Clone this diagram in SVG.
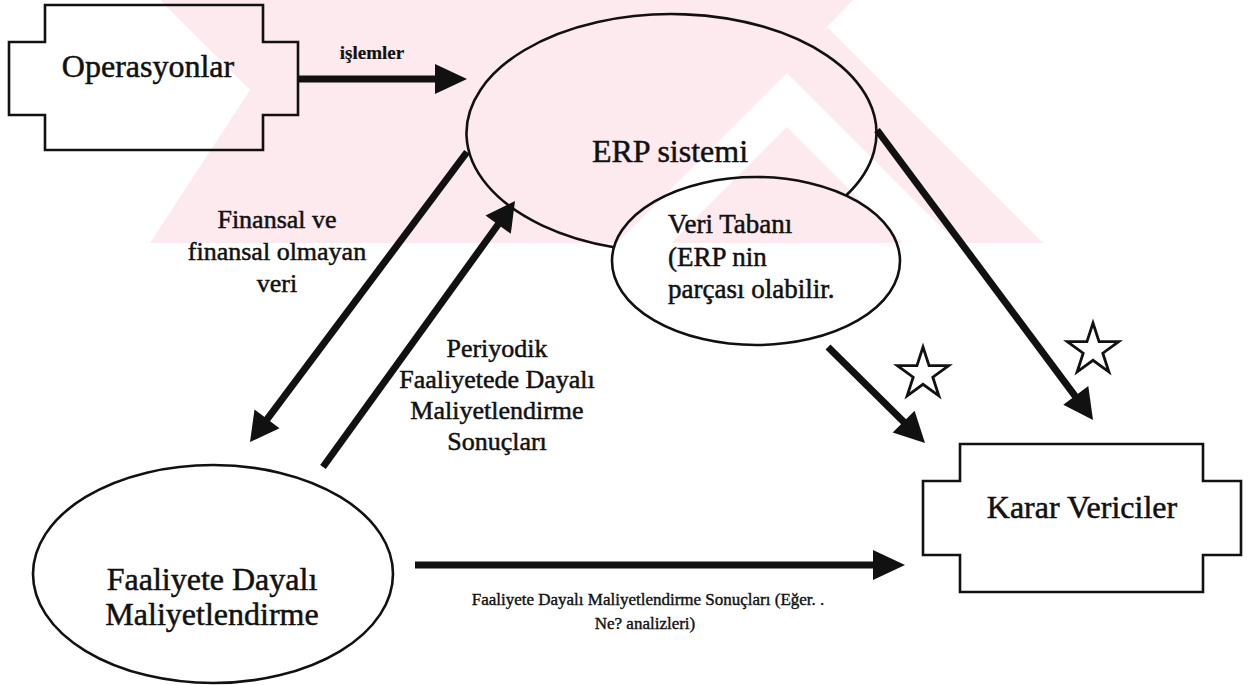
<svg xmlns="http://www.w3.org/2000/svg" width="1253" height="685" viewBox="0 0 1253 685">
  <style>
    .shape { fill: none; stroke: #111; stroke-width: 2.6; }
    .conn { fill: none; stroke: #111; stroke-width: 7; }
    .head { fill: #111; }
    .star { fill: #fff; stroke: #111; stroke-width: 2.8; stroke-linejoin: miter; }
    text { font-family: "Liberation Serif", "Times New Roman", serif; fill: #111; stroke: #111; stroke-width: 0.5; }
    .big { font-size: 32px; }
    .mid { font-size: 26px; }
    .db { font-size: 27px; }
    .small { font-size: 17px; stroke-width: 0.4; }
    .tag { font-size: 19px; font-weight: bold; stroke-width: 0.2; }
    .wm { fill: #fdeaee; }
  </style>
  <defs>
    <path id="star" d="M0,-27 L6.05,-8.33 L25.68,-8.34 L9.8,3.18 L15.87,21.84 L0,10.3 L-15.87,21.84 L-9.8,3.18 L-25.68,-8.34 L-6.05,-8.33 Z"/>
  </defs>

  <rect width="1253" height="685" fill="#fff"/>

  <!-- background emblem band -->
  <g id="emblem">
    <polygon class="wm" points="160,0 853,0 827,27 1043,243 150,243 250,90"/>
    <polygon fill="#fff" points="617,243 787,73 957,243 903,243 787,127 671,243"/>
  </g>

  <!-- connectors -->
  <g id="connectors">
    <line class="conn" x1="297" y1="79" x2="443" y2="79"/>
    <polygon class="head" points="467,79 435,64 435,94"/>

    <line class="conn" x1="467" y1="152" x2="264.4" y2="422.8"/>
    <polygon class="head" points="250,442 254.5,409.5 279.5,428.2"/>

    <line class="conn" x1="323" y1="467" x2="501" y2="220.5"/>
    <polygon class="head" points="515,201 485.5,215.5 510.8,233.8"/>

    <line class="conn" x1="877" y1="130" x2="1078.7" y2="400.8"/>
    <polygon class="head" points="1093,420 1063.3,404.7 1088.3,386.1"/>

    <line class="conn" x1="828" y1="347" x2="907.9" y2="426.1"/>
    <polygon class="head" points="925,443 892.7,432.6 914.6,410.7"/>

    <line class="conn" x1="415" y1="565" x2="881" y2="565"/>
    <polygon class="head" points="905,565 873,550 873,580"/>

    <text class="tag" x="372" y="59" text-anchor="middle">işlemler</text>

    <text class="mid" x="277" y="228" text-anchor="middle">Finansal ve</text>
    <text class="mid" x="277" y="260" text-anchor="middle">finansal olmayan</text>
    <text class="mid" x="277" y="292" text-anchor="middle">veri</text>

    <text class="mid" x="497" y="357" text-anchor="middle">Periyodik</text>
    <text class="mid" x="497" y="388" text-anchor="middle">Faaliyetede Dayalı</text>
    <text class="mid" x="497" y="419" text-anchor="middle">Maliyetlendirme</text>
    <text class="mid" x="497" y="450" text-anchor="middle">Sonuçları</text>

    <text class="small" x="648" y="605" text-anchor="middle">Faaliyete Dayalı Maliyetlendirme Sonuçları (Eğer. .</text>
    <text class="small" x="645" y="629" text-anchor="middle">Ne? analizleri)</text>

    <use href="#star" class="star" x="923" y="374"/>
    <use href="#star" class="star" x="1093" y="350"/>
  </g>

  <g id="operasyonlar">
    <path class="shape" d="M45,5 H263 V42 H298 V115 H263 V150 H45 V115 H9 V42 H45 Z"/>
    <text class="big" x="148" y="77" text-anchor="middle">Operasyonlar</text>
  </g>

  <g id="erp-sistemi">
    <path class="shape" d="M614,247.3 A205,119 0 1 1 846,195.5"/>
    <text class="big" x="670" y="162" text-anchor="middle">ERP sistemi</text>
  </g>

  <g id="veri-tabani">
    <ellipse class="shape" cx="756" cy="261" rx="144" ry="84"/>
    <text class="db" x="668" y="233">Veri Tabanı</text>
    <text class="db" x="668" y="266">(ERP nin</text>
    <text class="db" x="668" y="298">parçası olabilir.</text>
  </g>

  <g id="faaliyete-dayali-maliyetlendirme">
    <ellipse class="shape" cx="213" cy="574" rx="180" ry="109"/>
    <text class="big" x="212" y="590" text-anchor="middle">Faaliyete Dayalı</text>
    <text class="big" x="212" y="625" text-anchor="middle">Maliyetlendirme</text>
  </g>

  <g id="karar-vericiler">
    <path class="shape" d="M960,444 H1203 V481 H1241 V555 H1203 V592 H960 V555 H923 V481 H960 Z"/>
    <text class="big" x="1082" y="518" text-anchor="middle">Karar Vericiler</text>
  </g>
</svg>
